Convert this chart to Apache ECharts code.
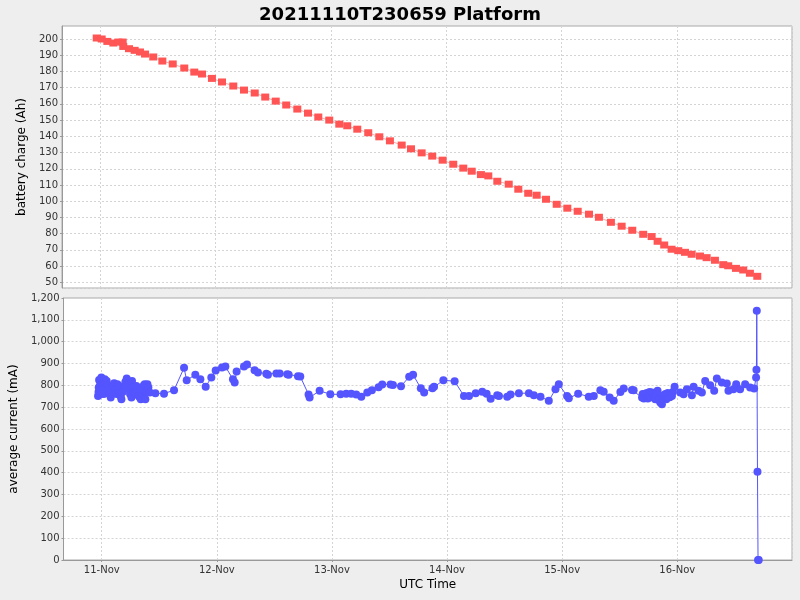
<!DOCTYPE html>
<html>
<head>
<meta charset="utf-8">
<script src="https://cdn.jsdelivr.net/npm/echarts@6/dist/echarts.min.js"></script>
<style>
html,body{margin:0;padding:0;background:#eeeeee;}
#chart{width:800px;height:600px;}
</style>
</head>
<body>
<div id="chart"></div>
<script>
// Times are days after 2021-11-11 00:00 UTC
const baseTime = Date.UTC(2021, 10, 11);
const titleText = '20211110T230659 Platform';

const chargeDays = [-0.031,0.012,0.061,0.113,0.156,0.194,0.199,0.249,0.298,0.344,0.388,0.459,0.538,0.628,0.728,0.815,0.882,0.968,1.055,1.153,1.246,1.339,1.430,1.521,1.612,1.708,1.801,1.890,1.985,2.072,2.141,2.228,2.323,2.419,2.511,2.613,2.694,2.786,2.878,2.968,3.060,3.147,3.220,3.300,3.364,3.442,3.541,3.624,3.710,3.783,3.864,3.957,4.049,4.139,4.237,4.323,4.427,4.520,4.612,4.707,4.780,4.832,4.889,4.953,5.011,5.069,5.127,5.199,5.257,5.329,5.401,5.444,5.511,5.574,5.632,5.696];
const chargeAh = [200.6,200,198.5,197.5,198.1,198.1,195.4,194,193,192,190.7,188.9,186.4,184.6,182.1,179.6,178.4,175.7,173.5,171,168.5,166.7,164.2,161.7,159.3,156.8,154.3,151.9,150,147.5,146.5,144.4,142.2,139.7,137.2,134.6,132.3,129.8,127.8,125.3,122.8,120.4,118.5,116.4,115.6,112.3,110.5,107.4,104.9,103.7,101.2,98.1,95.7,93.8,92,90.1,87,84.6,82.1,79.6,78.2,75.3,73,70.4,69.5,68.5,67.3,66.2,65.2,63.6,60.9,60.2,58.6,57.6,55.6,53.7];

// average current, in three stretches of time
const currentDaysA = [-0.032,-0.028,-0.026,-0.023,-0.015,-0.008,-0.003,0.004,0.012,0.018,0.026,0.034,0.043,0.052,0.061,0.070,0.078,0.088,0.098,0.108,0.119,0.128,0.136,0.146,0.156,0.164,0.171,0.182,0.194,0.205,0.217,0.226,0.234,0.246,0.258,0.263,0.275,0.287,0.294,0.301,0.311,0.321,0.330,0.339,0.349,0.359,0.366,0.373,0.379,0.388,0.397,0.405,0.417];
const currentMA_A = [751,770,790,825,800,760,836,800,782,760,828,790,820,800,782,760,744,770,797,810,782,760,805,790,767,750,736,770,797,815,831,800,782,760,744,820,790,767,780,797,770,751,745,736,760,782,800,805,736,770,805,790,767];

const currentDaysB = [0.466,0.541,0.628,0.715,0.738,0.813,0.857,0.903,0.952,0.990,1.045,1.074,1.140,1.155,1.172,1.236,1.262,1.328,1.357,1.430,1.444,1.517,1.546,1.612,1.624,1.705,1.725,1.797,1.806,1.893,1.986,2.075,2.124,2.168,2.211,2.255,2.307,2.347,2.405,2.437,2.509,2.530,2.600,2.671,2.705,2.772,2.801,2.873,2.887,2.968,3.066,3.147,3.191,3.249,3.306,3.344,3.379,3.436,3.451,3.523,3.552,3.624,3.711,3.754,3.812,3.884,3.942,3.971,4.043,4.058,4.139,4.231,4.275,4.332,4.361,4.413,4.448,4.506,4.535,4.607,4.621];
const currentMA_B = [764,762,778,880,823,849,828,794,836,868,882,886,828,813,863,886,895,869,859,853,848,854,854,851,848,842,840,758,744,775,759,759,762,762,758,748,767,778,791,804,804,802,796,839,848,787,767,787,793,823,819,751,751,764,771,762,739,755,751,748,758,764,764,755,748,729,782,805,751,741,762,748,751,778,771,744,729,770,785,779,778];

const currentDaysC = [4.694,4.700,4.710,4.723,4.735,4.745,4.751,4.760,4.770,4.780,4.790,4.800,4.809,4.818,4.829,4.840,4.845,4.853,4.860,4.867,4.875,4.882,4.890,4.897,4.905,4.912,4.918,4.925,4.935,4.945,4.954,4.962,4.977,5.026,5.055,5.084,5.127,5.142,5.185,5.214,5.243,5.286,5.321,5.344,5.387,5.431,5.445,5.488,5.512,5.546,5.590,5.633,5.668,5.685,5.688,5.691,5.697,5.702,5.708];
const currentMA_C = [744,760,740,759,765,740,751,770,745,767,760,745,736,760,775,740,730,721,725,713,735,755,745,760,736,748,765,759,745,762,751,770,793,767,759,782,755,793,775,767,820,800,775,831,813,808,775,782,805,782,805,790,785,836,871,1142,404,0,0];

const xMinDays = -0.332;
const xMaxDays = 5.997;
const chargeRange = [46.5, 208];
const currentRange = [0, 1200];
const currentTicks = 100;

const DAY = 86400000;
const toT = d => baseTime + d * DAY;
const chargeData = chargeDays.map((d, i) => [toT(d), chargeAh[i]]);
const currentDays = currentDaysA.concat(currentDaysB, currentDaysC);
const currentMA = currentMA_A.concat(currentMA_B, currentMA_C);
const currentData = currentDays.map((d, i) => [toT(d), currentMA[i]]);

const FONT = 'DejaVu Sans';
const splitLine = {show: true, lineStyle: {color: '#d4d4d4', type: [2, 2], width: 1}};
const axisLine = {show: true, lineStyle: {color: '#999999', width: 1}};

function fmtThousands(v) {
  return String(v).replace(/\B(?=(\d{3})+(?!\d))/g, ',');
}

const chart = echarts.init(document.getElementById('chart'), null, {renderer: 'canvas'});
chart.setOption({
  useUTC: true,
  animation: false,
  backgroundColor: '#eeeeee',
  title: {
    text: titleText,
    left: 'center',
    top: 1,
    textStyle: {fontFamily: FONT, fontWeight: 'bold', fontSize: 18, color: '#000'}
  },
  grid: [
    {left: 62, top: 26, width: 730, height: 262, show: true, backgroundColor: '#ffffff', borderColor: '#aaaaaa', borderWidth: 1},
    {left: 62, top: 298, width: 730, height: 262, show: true, backgroundColor: '#ffffff', borderColor: '#aaaaaa', borderWidth: 1}
  ],
  xAxis: [
    {
      type: 'time', gridIndex: 0, min: toT(xMinDays), max: toT(xMaxDays),
      minInterval: DAY, maxInterval: DAY,
      axisLine: {show: false}, axisTick: {show: false}, axisLabel: {show: false},
      splitLine: splitLine
    },
    {
      type: 'time', gridIndex: 1, min: toT(xMinDays), max: toT(xMaxDays),
      minInterval: DAY, maxInterval: DAY,
      name: 'UTC Time', nameLocation: 'middle', nameGap: 19,
      nameTextStyle: {fontFamily: FONT, fontSize: 12, color: '#000'},
      axisLine: axisLine,
      axisTick: {show: true, length: 2, lineStyle: {color: '#999'}},
      axisLabel: {
        fontFamily: FONT, fontSize: 10, color: '#333', margin: 5,
        showMinLabel: false, showMaxLabel: false,
        formatter: '{dd}-{MMM}'
      },
      splitLine: splitLine
    }
  ],
  yAxis: [
    {
      type: 'value', gridIndex: 0, min: chargeRange[0], max: chargeRange[1], splitNumber: 16,
      name: 'battery charge (Ah)', nameLocation: 'middle', nameGap: 30, nameRotate: 90,
      nameTextStyle: {fontFamily: FONT, fontSize: 12, color: '#000'},
      axisLine: axisLine,
      axisTick: {show: true, length: 2, lineStyle: {color: '#999'}},
      axisLabel: {fontFamily: FONT, fontSize: 10, color: '#333', margin: 4, showMinLabel: false, showMaxLabel: false},
      splitLine: splitLine
    },
    {
      type: 'value', gridIndex: 1, min: currentRange[0], max: currentRange[1], interval: currentTicks,
      name: 'average current (mA)', nameLocation: 'middle', nameGap: 39, nameRotate: 90,
      nameTextStyle: {fontFamily: FONT, fontSize: 12, color: '#000'},
      axisLine: axisLine,
      axisTick: {show: true, length: 2, lineStyle: {color: '#999'}},
      axisLabel: {fontFamily: FONT, fontSize: 10, color: '#333', margin: 4, formatter: fmtThousands},
      splitLine: splitLine
    }
  ],
  series: [
    {
      type: 'line', xAxisIndex: 0, yAxisIndex: 0, data: chargeData,
      symbol: 'rect', symbolSize: [8, 7], showAllSymbol: true,
      itemStyle: {color: '#ff5555'},
      lineStyle: {color: '#ff5555', width: 1, opacity: 0.5},
      emphasis: {disabled: true}
    },
    {
      type: 'line', xAxisIndex: 1, yAxisIndex: 1, data: currentData,
      symbol: 'circle', symbolSize: 8, showAllSymbol: true,
      itemStyle: {color: '#5555ff'},
      lineStyle: {color: '#5555ff', width: 1},
      emphasis: {disabled: true}
    }
  ]
});
</script>
</body>
</html>
